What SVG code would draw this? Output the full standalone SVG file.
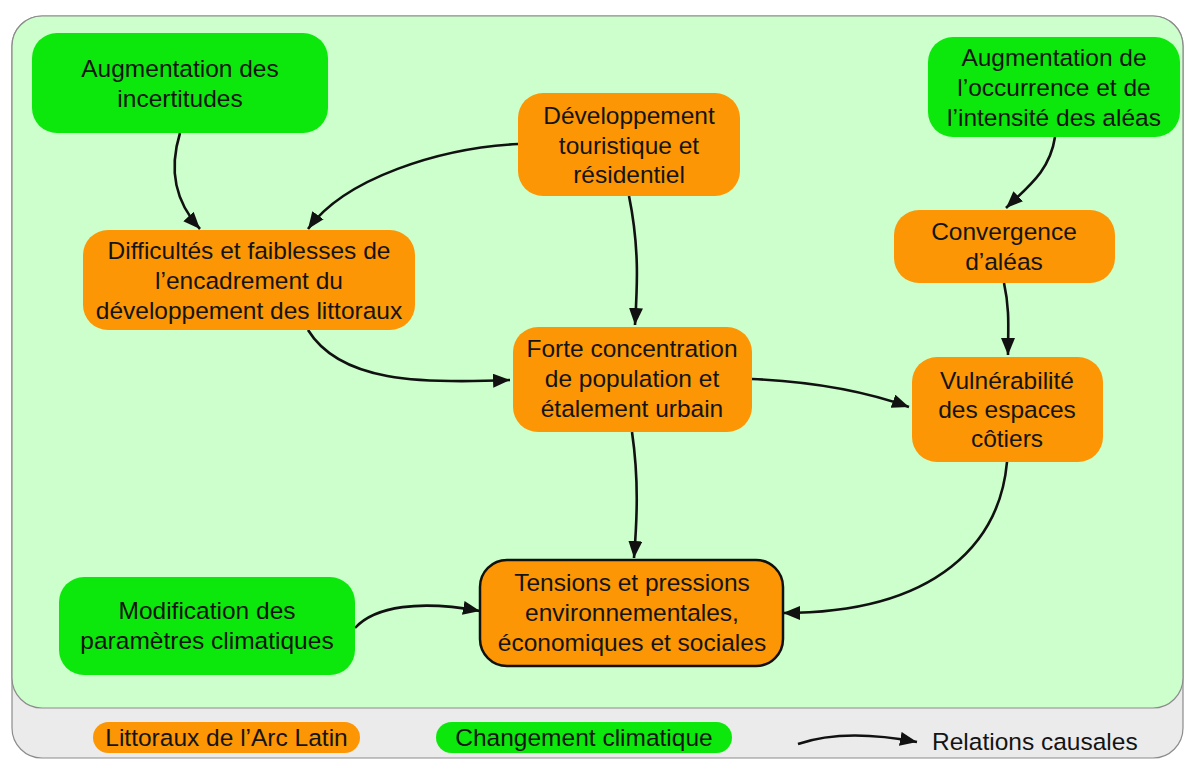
<svg xmlns="http://www.w3.org/2000/svg" width="1190" height="760" viewBox="0 0 1190 760">
<defs>
<style>
text{font-family:"Liberation Sans",Arial,sans-serif;font-size:24.5px;fill:#141414;text-anchor:middle}
.g{fill:#0ce80c}
.o{fill:#fc9604}
.edge{fill:none;stroke:#111;stroke-width:2.6;marker-end:url(#ah)}
</style>
<marker id="ah" markerUnits="userSpaceOnUse" markerWidth="20" markerHeight="16" refX="17" refY="7" orient="auto">
<path d="M0,0 L17,7 L0,14 z" fill="#111"/>
</marker>
</defs>
<rect width="1190" height="760" fill="#fff"/>
<g id="frame">
<rect x="12" y="16" width="1171" height="742" rx="30" fill="#ebebeb" stroke="#8c8c8c" stroke-width="1.2"/>
<rect x="12" y="16" width="1171" height="692" rx="30" fill="#ccffcc" stroke="#8c8c8c" stroke-width="1.2"/>
</g>
<g id="connectors">
<path class="edge" d="M180,133 C168,172 176,203 200,229"/>
<path class="edge" d="M518,144 C440,148 345,178 308,229"/>
<path class="edge" d="M308,330 C340,382 420,384 510,380"/>
<path class="edge" d="M629,196 C640,250 637,290 635,325"/>
<path class="edge" d="M1055,137 C1050,170 1030,185 1006,208"/>
<path class="edge" d="M1004,283 C1010,310 1008,330 1008,355"/>
<path class="edge" d="M752,379 C820,382 870,393 909,407"/>
<path class="edge" d="M1007,462 C1000,540 940,613 783,613"/>
<path class="edge" d="M632,432 C639,480 637,520 634,558"/>
<path class="edge" d="M355,628 C375,606 420,600 480,611"/>
</g>
<g id="n-aug-incertitudes">
<rect class="g" x="32" y="33" width="296" height="100" rx="25"/>
<text x="180" y="76.5">Augmentation des</text>
<text x="180" y="106.5">incertitudes</text>
</g>
<g id="n-developpement">
<rect class="o" x="518" y="93" width="222" height="103" rx="25"/>
<text x="629" y="123.5">Développement</text>
<text x="629" y="153.5">touristique et</text>
<text x="629" y="182.5">résidentiel</text>
</g>
<g id="n-aug-occurrence">
<rect class="g" x="928" y="37" width="252" height="100" rx="25"/>
<text x="1054" y="65.5">Augmentation de</text>
<text x="1054" y="95.5">l’occurrence et de</text>
<text x="1054" y="125.5">l’intensité des aléas</text>
</g>
<g id="n-difficultes">
<rect class="o" x="83" y="230" width="332" height="100" rx="25"/>
<text x="249" y="258.5">Difficultés et faiblesses de</text>
<text x="249" y="288.5">l’encadrement du</text>
<text x="249" y="318.5">développement des littoraux</text>
</g>
<g id="n-convergence">
<rect class="o" x="894" y="210" width="221" height="73" rx="25"/>
<text x="1004" y="239.5">Convergence</text>
<text x="1004" y="270">d’aléas</text>
</g>
<g id="n-forte">
<rect class="o" x="513" y="327" width="239" height="105" rx="25"/>
<text x="632" y="356.5">Forte concentration</text>
<text x="632" y="386.5">de population et</text>
<text x="632" y="416.5">étalement urbain</text>
</g>
<g id="n-vulnerabilite">
<rect class="o" x="912" y="357" width="191" height="105" rx="25"/>
<text x="1007" y="388.5">Vulnérabilité</text>
<text x="1007" y="417.5">des espaces</text>
<text x="1007" y="446.5">côtiers</text>
</g>
<g id="n-tensions">
<rect class="o" x="480" y="560" width="303" height="106" rx="27" stroke="#111" stroke-width="2.5"/>
<text x="632" y="590.5">Tensions et pressions</text>
<text x="632" y="620.5">environnementales,</text>
<text x="632" y="650.5">économiques et sociales</text>
</g>
<g id="n-modification">
<rect class="g" x="59" y="577" width="296" height="98" rx="25"/>
<text x="207" y="618.5">Modification des</text>
<text x="207" y="648.5">paramètres climatiques</text>
</g>
<g id="legend">
<rect class="o" x="93" y="722" width="267" height="31" rx="15.5"/>
<text x="226.5" y="746">Littoraux de l’Arc Latin</text>
<rect class="g" x="436" y="722" width="296" height="31" rx="15.5"/>
<text x="584" y="746">Changement climatique</text>
<path class="edge" d="M798,744 C830,733 870,733 917,742"/>
<text x="932" y="750" style="text-anchor:start">Relations causales</text>
</g>
</svg>
